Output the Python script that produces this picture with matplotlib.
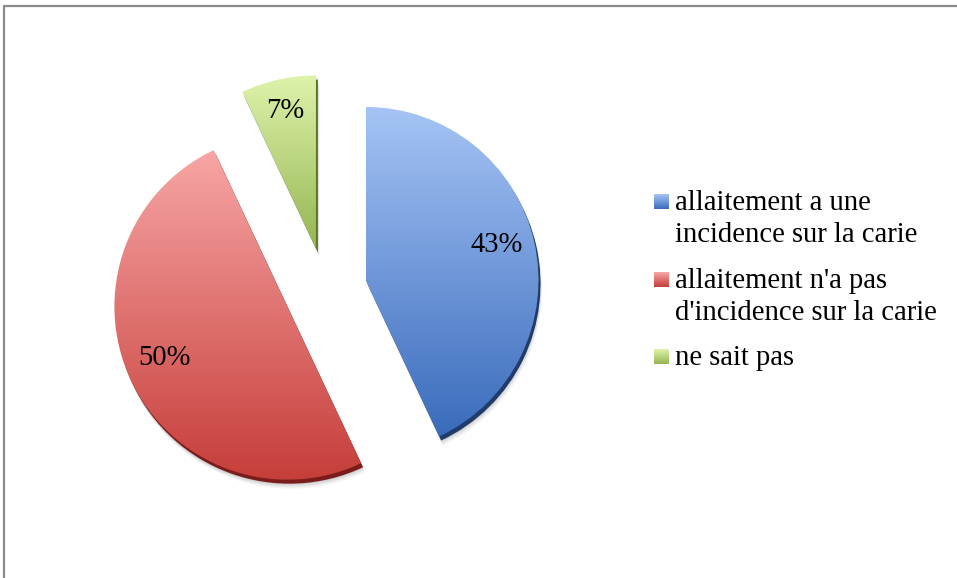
import numpy as np
import matplotlib
matplotlib.use("Agg")
import matplotlib.pyplot as plt
from matplotlib.patches import Wedge, Rectangle
from matplotlib.colors import LinearSegmentedColormap
import matplotlib.transforms as mtrans

# ---- data ----
categories = ["allaitement a une\nincidence sur la carie",
              "allaitement n'a pas\nd'incidence sur la carie",
              "ne sait pas"]
values = [43, 50, 7]

# ---- style ----
top_colors = ["#a6c4f5", "#f7a6a5", "#def3ab"]
bottom_colors = ["#3a6cbc", "#c63e3a", "#95b652"]
side_colors = ["#1f3c6a", "#7a1d1a", "#5b7925"]
FONT = "Liberation Serif"
FS = 20.6

W, H = 957, 578
fig = plt.figure(figsize=(W / 100, H / 100), dpi=100)
fig.patch.set_facecolor("white")

R = 173.0
cx, cy = 325.0, 289.0
half = 1.5 * R
ax = fig.add_axes([(cx - half) / W, (H - cy - half) / H, 2 * half / W, 2 * half / H])

wedges, texts, autotexts = ax.pie(
    values, startangle=90, counterclock=False, explode=[0.24] * len(values),
    autopct=lambda p: f"{p:.0f}%", pctdistance=0.78,
    textprops=dict(family=FONT, fontsize=FS, color="#000000"))

px = 1.0 / R
for w, tc, bc, sc in zip(wedges, top_colors, bottom_colors, side_colors):
    x0, y0 = w.center
    # soft shadow
    for k, a in [(9, 0.05), (7, 0.07), (5, 0.09)]:
        ax.add_patch(Wedge((x0 + k * px * 0.4, y0 - k * px), w.r, w.theta1, w.theta2,
                           facecolor="black", alpha=a, lw=0, zorder=0.4))
    # extruded side
    ax.add_patch(Wedge((x0 + 2 * px, y0 - 4 * px), w.r, w.theta1, w.theta2,
                       facecolor=sc, lw=0, zorder=0.8))
    w.set_facecolor("none")
    w.set_edgecolor("none")
    w.set_zorder(1)
    ext = w.get_path().get_extents()
    cmap = LinearSegmentedColormap.from_list("g", [tc, bc])
    grad = np.linspace(0, 1, 256).reshape(-1, 1)
    im = ax.imshow(grad, cmap=cmap, extent=[ext.x0, ext.x1, ext.y0, ext.y1],
                   origin="upper", aspect="auto", zorder=1, interpolation="bilinear")
    im.set_clip_path(w)

for t in autotexts:
    t.set_zorder(5)
    t.set_transform(ax.transData + mtrans.ScaledTranslation(-1 / 100, 6 / 100, fig.dpi_scale_trans))

ax.set_xlim(-1.5, 1.5)
ax.set_ylim(-1.5, 1.5)
ax.set_aspect("auto")
ax.axis("off")

# ---- overlay: border + legend ----
ov = fig.add_axes([0, 0, 1, 1], zorder=3)
ov.set_xlim(0, W)
ov.set_ylim(H, 0)
ov.axis("off")
ov.patch.set_alpha(0)
ov.plot([4, 4, W + 10], [H + 10, 6, 6], color="#8a8a8a", lw=1.6, solid_capstyle="butt")

entry_base = [210, 288, 365]
line_gap = 31.5
for cat, tc, bc, yb in zip(categories, top_colors, bottom_colors, entry_base):
    cmap = LinearSegmentedColormap.from_list("g", [tc, bc])
    grad = np.linspace(0, 1, 64).reshape(-1, 1)
    ov.imshow(grad, cmap=cmap, extent=[654, 669, yb - 1, yb - 16], origin="upper",
              aspect="auto", interpolation="bilinear")
    for i, line in enumerate(cat.split("\n")):
        ov.text(675, yb + i * line_gap, line, family=FONT, fontsize=FS,
                color="#000000", va="baseline", ha="left")
ov.set_xlim(0, W)
ov.set_ylim(H, 0)

fig.savefig("out.png", dpi=100, facecolor="white")
